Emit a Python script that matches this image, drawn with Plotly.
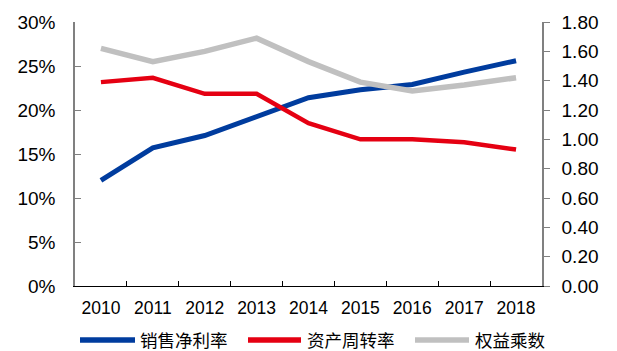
import plotly.graph_objects as go

# Annual DuPont components, 2010-2018
years = ["2010", "2011", "2012", "2013", "2014", "2015", "2016", "2017", "2018"]
net_margin = [0.120, 0.157, 0.171, 0.192, 0.214, 0.223, 0.229, 0.243, 0.256]   # 销售净利率 (left axis)
asset_turnover = [1.39, 1.42, 1.31, 1.31, 1.11, 1.00, 1.00, 0.98, 0.93]        # 资产周转率 (right axis)
equity_multiplier = [1.62, 1.53, 1.60, 1.69, 1.53, 1.39, 1.33, 1.37, 1.42]     # 权益乘数 (right axis)

names = ["销售净利率", "资产周转率", "权益乘数"]
colors = ["#003C9E", "#E50012", "#C0C0C0"]
widths = [5, 4.5, 5.5]

W, H = 617, 351
L, R, T, B = 75, 75, 17, 65
latin = "Liberation Sans, Arial, sans-serif"
cjk = "Noto Sans CJK SC, sans-serif"

fig = go.Figure()
fig.add_trace(go.Scatter(x=years, y=equity_multiplier, mode="lines", name=names[2],
                         line=dict(color=colors[2], width=widths[2]), yaxis="y2"))
fig.add_trace(go.Scatter(x=years, y=asset_turnover, mode="lines", name=names[1],
                         line=dict(color=colors[1], width=widths[1]), yaxis="y2"))
fig.add_trace(go.Scatter(x=years, y=net_margin, mode="lines", name=names[0],
                         line=dict(color=colors[0], width=widths[0]), yaxis="y"))

x_font = dict(family=latin, size=17.5, color="#000000")
y_font = dict(family=latin, size=19, color="#000000")

fig.update_layout(
    width=W, height=H,
    margin=dict(l=L, r=R, t=T, b=B),
    paper_bgcolor="white", plot_bgcolor="white",
    showlegend=False,
    xaxis=dict(type="category", range=[-0.5, 8.5], tickson="boundaries",
               ticks="inside", ticklen=5, tickcolor="#000000", tickwidth=1,
               showline=True, linecolor="#000000", linewidth=1.2,
               showgrid=False, zeroline=False, tickfont=x_font,
               ticklabelstandoff=6),
    yaxis=dict(range=[0, 0.30], dtick=0.05, tickformat=".0%",
               ticks="inside", ticklen=6, tickcolor="#808080", tickwidth=1.2,
               showline=True, linecolor="#808080", linewidth=1.5,
               showgrid=False, zeroline=False, tickfont=y_font,
               ticklabelstandoff=14),
    yaxis2=dict(range=[0, 1.8], dtick=0.2, tickformat=".2f", overlaying="y", side="right",
                ticks="outside", ticklen=6, tickcolor="#808080", tickwidth=1.2,
                showline=True, linecolor="#808080", linewidth=1.5,
                showgrid=False, zeroline=False, tickfont=y_font,
                ticklabelstandoff=8),
)

# Legend drawn below the plot: a thick line sample followed by its label
pw = W - L - R
ph = H - T - B
def px_x(p):
    return (p - L) / pw
def px_y(p):
    return (H - B - p) / ph

legend_y = 341
samples = [(80, 135, 139), (248, 301, 306), (415, 469, 474)]
for (x0, x1, tx), name, col in zip(samples, names, colors):
    fig.add_shape(type="line", xref="paper", yref="paper",
                  x0=px_x(x0), x1=px_x(x1), y0=px_y(legend_y), y1=px_y(legend_y),
                  line=dict(color=col, width=5.5))
    fig.add_annotation(xref="paper", yref="paper", x=px_x(tx), y=px_y(legend_y),
                       xanchor="left", yanchor="middle", showarrow=False,
                       text=name, font=dict(family=cjk, size=17.5, color="#000000"),
                       borderpad=0)

fig.write_html("out.html")
